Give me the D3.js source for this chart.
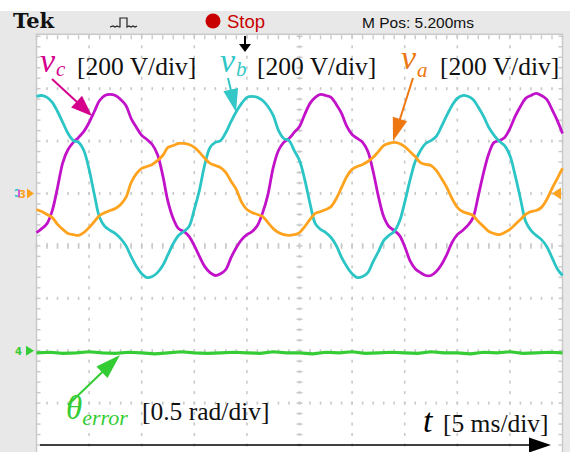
<!DOCTYPE html>
<html>
<head>
<meta charset="utf-8">
<script src="https://cdn.jsdelivr.net/npm/d3@7"></script>
<style>
  body { margin: 0; background: #fff; }
  svg { display: block; }
</style>
</head>
<body>
<svg id="scope" width="570" height="452"></svg>
<script>
// sample times in ms, one sample every 0.5 ms (5 ms/div, 10 div)
const times = d3.range(0, 50.001, 0.5);

// phase voltages in V (200 V/div)
const va = [
  -61, -69, -80, -92, -118, -137, -153, -157, -160, -149,
  -130, -107, -84, -73, -65, -57, -42, -15, 42, 76,
  96, 103, 111, 126, 145, 176, 183, 191, 191, 187,
  176, 157, 134, 115, 107, 99, 80, 46, 15, -34,
  -61, -73, -80, -88, -111, -134, -149, -157, -160, -157,
  -149, -126, -99, -76, -69, -61, -50, -19, 23, 65,
  92, 103, 111, 122, 138, 160, 183, 191, 195, 191,
  179, 160, 141, 118, 111, 107, 88, 57, 23, -19,
  -53, -69, -76, -84, -107, -126, -145, -153, -157, -149,
  -137, -118, -99, -80, -69, -65, -53, -23, 19, 57,
  96
];
const vb = [
  371, 374, 367, 348, 313, 271, 229, 202, 195, 164,
  92, -4, -92, -126, -141, -153, -172, -199, -241, -279,
  -306, -321, -317, -302, -275, -233, -191, -160, -145, -126,
  -61, 15, 111, 176, 195, 202, 233, 275, 313, 344,
  367, 371, 367, 355, 332, 298, 241, 210, 202, 164,
  126, 53, -38, -115, -137, -149, -168, -199, -244, -279,
  -306, -321, -317, -302, -260, -222, -180, -160, -145, -107,
  -34, 50, 122, 164, 191, 202, 218, 256, 298, 336,
  363, 374, 371, 359, 329, 294, 252, 222, 199, 183,
  145, 69, -19, -107, -141, -160, -176, -202, -244, -287,
  -313
];
const vc = [
  -149, -134, -115, -65, 23, 118, 168, 195, 214, 237,
  271, 313, 355, 374, 378, 374, 359, 336, 286, 252,
  222, 206, 187, 149, 69, -31, -96, -134, -145, -164,
  -199, -241, -279, -302, -313, -306, -290, -244, -206, -176,
  -157, -145, -122, -73, -4, 99, 164, 195, 210, 233,
  256, 302, 344, 367, 378, 374, 367, 340, 306, 256,
  225, 210, 195, 160, 84, -11, -88, -126, -141, -160,
  -202, -256, -287, -302, -313, -313, -298, -271, -233, -187,
  -157, -141, -122, -92, -8, 80, 153, 195, 202, 214,
  248, 294, 332, 363, 374, 382, 374, 359, 321, 279,
  229
];

// angle error in rad (0.5 rad/div), one sample every 1.25 ms
const errTimes = d3.range(0, 50.001, 1.25);
const thetaErr = [
  -0.02, -0.015, -0.025, -0.02, -0.01, -0.02, -0.025, -0.015, -0.02, -0.03,
  -0.02, -0.01, -0.02, -0.025, -0.02, -0.015, -0.02, -0.025, -0.01, -0.02,
  -0.02, -0.03, -0.015, -0.02, -0.01, -0.025, -0.02, -0.015, -0.02, -0.025,
  -0.01, -0.02, -0.02, -0.03, -0.015, -0.02, -0.01, -0.025, -0.02, -0.015,
  -0.02
];

const colors = {
  va: "#ffa31f", vb: "#2cc5c5", vc: "#c112c9", err: "#36cc36",
  vaLabel: "#ee7711", vbLabel: "#33c7c7", vcLabel: "#d4008c", errLabel: "#33cc33"
};

const svg = d3.select("#scope");
const W = 570, H = 452;

// screen scales: 10 x 8 divisions
const x = d3.scaleLinear().domain([0, 50]).range([36.5, 562.5]);
const yV = d3.scaleLinear().domain([-1000, 600]).range([455.5, 36.3]);
const yErr = d3.scaleLinear().domain([-1, 3]).range([455.5, 36.3]);

// frame
svg.append("rect").attr("x", 0).attr("y", 0).attr("width", W).attr("height", H).attr("fill", "#fff");
svg.append("rect").attr("x", 0).attr("y", 11).attr("width", W).attr("height", H - 11).attr("fill", "#e8e8e8");
svg.append("rect")
  .attr("x", x(0)).attr("y", yV(600) - 2)
  .attr("width", x(50) - x(0)).attr("height", H)
  .attr("fill", "#fff").attr("stroke", "#c9c9c9").attr("stroke-width", 1.5);

// graticule
const grid = svg.append("g").attr("fill", "#c9c9c9");
const majorT = d3.range(5, 50, 5);
const majorV = d3.range(-800, 600, 200);
const minorT = d3.range(0, 50.001, 1);
const minorV = d3.range(-1000, 600.001, 40);

majorT.forEach(t => {
  minorV.forEach(v => {
    grid.append("rect").attr("x", x(t) - 0.8).attr("y", yV(v) - 1.5).attr("width", 1.6).attr("height", 3);
  });
});
majorV.forEach(v => {
  minorT.forEach(t => {
    grid.append("rect").attr("x", x(t) - 0.8).attr("y", yV(v) - 1.5).attr("width", 1.6).attr("height", 3);
  });
});
// centre lines and edges carry ticks
minorT.forEach(t => {
  grid.append("rect").attr("x", x(t) - 0.7).attr("y", yV(-200) - 3).attr("width", 1.4).attr("height", 6);
  grid.append("rect").attr("x", x(t) - 0.7).attr("y", yV(600) - 1).attr("width", 1.4).attr("height", 4);
});
minorV.forEach(v => {
  grid.append("rect").attr("x", x(25) - 3).attr("y", yV(v) - 0.7).attr("width", 6).attr("height", 1.4);
  grid.append("rect").attr("x", x(0)).attr("y", yV(v) - 0.7).attr("width", 4).attr("height", 1.4);
  grid.append("rect").attr("x", x(50) - 4).attr("y", yV(v) - 0.7).attr("width", 4).attr("height", 1.4);
});

// traces
const traces = svg.append("g").attr("fill", "none").attr("stroke-linejoin", "round");
const voltLine = d3.line().x((d, i) => x(times[i])).y(d => yV(d)).curve(d3.curveCatmullRom);

[["vc", vc], ["vb", vb], ["va", va]].forEach(([key, values]) => {
  traces.append("path")
    .attr("d", voltLine(values))
    .attr("stroke", colors[key])
    .attr("stroke-width", 2.8);
});

const errLine = d3.line().x((d, i) => x(errTimes[i])).y(d => yErr(d));
traces.append("path")
  .attr("d", errLine(thetaErr))
  .attr("stroke", colors.err)
  .attr("stroke-width", 3.2);

// channel ground markers (channels 1-3 share one level)
const marks = svg.append("g");
marks.append("path").attr("d", `M15,${yV(0) - 3}l3,-1M15,${yV(0) + 2}l3,1`)
  .attr("stroke", colors.vb).attr("stroke-width", 1.5);
marks.append("path").attr("d", `M19,${yV(0) - 4}v8`)
  .attr("stroke", colors.vc).attr("stroke-width", 1.3);
marks.append("text").attr("x", 19).attr("y", yV(0) + 4)
  .style("font-family", "DejaVu Sans").style("font-size", "10px").style("font-weight", "bold")
  .attr("fill", colors.va).text("3");
marks.append("path")
  .attr("d", `M27,${yV(0) - 5}L34,${yV(0)}L27,${yV(0) + 5}Z`)
  .attr("fill", colors.va);
marks.append("text").attr("x", 15).attr("y", yErr(0) + 4)
  .style("font-family", "DejaVu Sans").style("font-size", "10px").style("font-weight", "bold")
  .attr("fill", colors.err).text("4");
marks.append("path")
  .attr("d", `M26,${yErr(0) - 5}L34,${yErr(0)}L26,${yErr(0) + 5}Z`)
  .attr("fill", colors.err);
// trigger level marker on the right
marks.append("path")
  .attr("d", `M552,${yV(0)}L561,${yV(0) - 6}L561,${yV(0) + 6}Z`)
  .attr("fill", colors.va);

// trigger position marker
svg.append("line").attr("x1", 245).attr("x2", 245).attr("y1", 36).attr("y2", 46)
  .attr("stroke", "#000").attr("stroke-width", 2);
svg.append("path").attr("d", "M239,44L251,44L245,52Z").attr("fill", "#000");

// top status bar
const bar = svg.append("g");
bar.append("text").attr("x", 13).attr("y", 28)
  .style("font-family", "DejaVu Serif").style("font-weight", "bold").style("font-size", "21px")
  .attr("fill", "#111").text("Tek");
bar.append("path")
  .attr("d", "M110,27L113,26L115,27L117,26L119,27L120,27L120,18L127,18L127,27L129,26L131,27L133,26L135,27L137,26")
  .attr("fill", "none").attr("stroke", "#222").attr("stroke-width", 1.2);
bar.append("circle").attr("cx", 213).attr("cy", 21).attr("r", 7.5).attr("fill", "#c80000");
bar.append("text").attr("x", 227).attr("y", 28)
  .style("font-family", "Liberation Sans").style("font-size", "18.5px")
  .attr("fill", "#c80000").text("Stop");
bar.append("text").attr("x", 362).attr("y", 28)
  .style("font-family", "Liberation Sans").style("font-size", "15.5px")
  .attr("fill", "#111").text("M Pos: 5.200ms");

// annotation arrows
function arrow(g, x1, y1, x2, y2, color, len, wid, sw) {
  const dx = x2 - x1, dy = y2 - y1, d = Math.hypot(dx, dy);
  const ux = dx / d, uy = dy / d;
  const bx = x2 - ux * len, by = y2 - uy * len;
  g.append("line").attr("x1", x1).attr("y1", y1).attr("x2", bx + ux * 2).attr("y2", by + uy * 2)
    .attr("stroke", color).attr("stroke-width", sw);
  g.append("path")
    .attr("d", `M${x2},${y2}L${bx - uy * wid / 2},${by + ux * wid / 2}L${bx + uy * wid / 2},${by - ux * wid / 2}Z`)
    .attr("fill", color);
}

const ann = svg.append("g");
arrow(ann, 52, 79, 92, 116, colors.vcLabel, 21, 16, 2);
arrow(ann, 228, 78, 236, 112, colors.vbLabel, 23, 15, 2);
arrow(ann, 413, 78, 393, 141, colors.vaLabel, 23, 15, 2);
arrow(ann, 68, 405, 120, 355, colors.errLabel, 25, 16, 2);
arrow(ann, 40, 445, 551, 445, "#000", 22, 15, 1.6);

// labels
const serif = "Liberation Serif";
function symbol(g, xPos, yPos, main, sub, color, mainSize, subSize, subDx, subDy) {
  const t = g.append("text").attr("x", xPos).attr("y", yPos)
    .style("font-family", serif).style("font-style", "italic").attr("fill", color);
  t.append("tspan").style("font-size", mainSize + "px").text(main);
  if (sub) {
    t.append("tspan").attr("dx", subDx).attr("dy", subDy).style("font-size", subSize + "px").text(sub);
  }
}
function scaleText(g, xPos, yPos, str) {
  g.append("text").attr("x", xPos).attr("y", yPos)
    .style("font-family", serif).style("font-size", "25.5px")
    .attr("fill", "#111").text(str);
}

symbol(ann, 40, 72, "v", "c", colors.vcLabel, 34, 21, 1, 4);
scaleText(ann, 77, 75, "[200 V/div]");
symbol(ann, 220, 72, "v", "b", colors.vbLabel, 34, 21, 1, 4);
scaleText(ann, 257, 75, "[200 V/div]");
symbol(ann, 401, 69, "v", "a", colors.vaLabel, 34, 21, 1, 8);
scaleText(ann, 440, 75, "[200 V/div]");

symbol(ann, 66, 419, "θ", "error", colors.errLabel, 33, 22, 0, 6);
scaleText(ann, 142, 420, "[0.5 rad/div]");

symbol(ann, 423, 432, "t", null, "#000", 34);
scaleText(ann, 443, 432, "[5 ms/div]");
</script>
</body>
</html>
